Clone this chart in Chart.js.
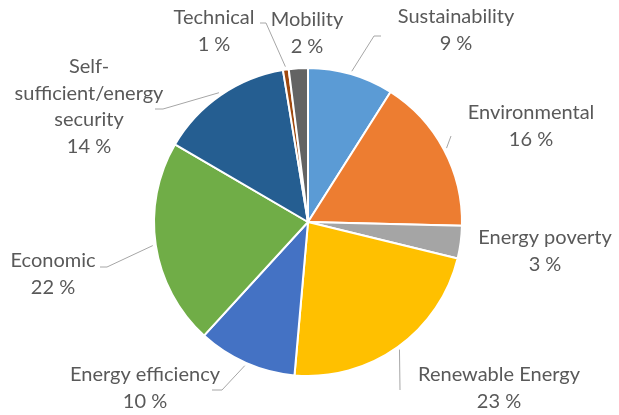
<!DOCTYPE html>
<html>
<head>
<meta charset="utf-8">
<script src="https://cdn.jsdelivr.net/npm/chart.js@4.4.1/dist/chart.umd.min.js"></script>
<style>
  html, body { margin: 0; padding: 0; background: #fff; }
  canvas { display: block; }
</style>
</head>
<body>
<canvas id="pie-chart" width="619" height="415"></canvas>
<script>
// Datos del gráfico (sentido horario desde arriba)
const categories = ['Sustainability', 'Environmental', 'Energy poverty', 'Renewable Energy',
  'Energy efficiency', 'Economic', ['Self-', 'sufficient/energy', 'security'], 'Technical', 'Mobility'];
const values = [9.0, 16.4, 3.4, 22.6, 10.4, 21.6, 14.0, 0.6, 2.0];
const colors = ['#5B9BD5', '#ED7D31', '#A5A5A5', '#FFC000', '#4472C4', '#70AD47', '#255E91', '#9E480E', '#636363'];

// Posición de las etiquetas (centro de la primera línea) y codos de las líneas guía
const labelLayout = [
  { x: 456, y: 17, leader: [[374, 36], [381, 36]] },
  { x: 531, y: 113, leader: [[451, 136]] },
  { x: 545, y: 238, leader: null },
  { x: 499, y: 375, leader: [[400, 390]] },
  { x: 145, y: 375, leader: [[222, 390], [212, 390]] },
  { x: 53, y: 261, leader: [[107, 267], [100, 267]] },
  { x: 89, y: 67, leader: [[163, 109], [155, 109]] },
  { x: 214, y: 18, leader: [[266, 23], [260, 23]] },
  { x: 307, y: 20, leader: null }
];

const total = values.reduce((a, b) => a + b, 0);

const pieLabels = {
  id: 'pieLabels',
  afterDatasetsDraw(chart) {
    const ctx = chart.ctx;
    const arcs = chart.getDatasetMeta(0).data;
    ctx.save();
    // Líneas guía
    ctx.strokeStyle = '#A6A6A6';
    ctx.lineWidth = 1;
    arcs.forEach(function(arc, i) {
      const lay = labelLayout[i];
      if (!lay.leader) return;
      const p = arc.getProps(['x', 'y', 'startAngle', 'endAngle', 'outerRadius'], true);
      const mid = (p.startAngle + p.endAngle) / 2;
      const r = p.outerRadius + 3;
      ctx.beginPath();
      ctx.moveTo(p.x + Math.cos(mid) * r, p.y + Math.sin(mid) * r);
      lay.leader.forEach(function(pt) { ctx.lineTo(pt[0], pt[1]); });
      ctx.stroke();
    });
    // Textos
    ctx.fillStyle = '#595959';
    ctx.font = '20px Lato';
    ctx.textAlign = 'center';
    ctx.textBaseline = 'middle';
    const lineH = 26.5;
    categories.forEach(function(cat, i) {
      const lay = labelLayout[i];
      const lines = Array.isArray(cat) ? cat.slice() : [cat];
      lines.push(Math.round(values[i] / total * 100) + ' %');
      lines.forEach(function(t, k) {
        ctx.fillText(t, lay.x, lay.y + k * lineH);
      });
    });
    ctx.restore();
  }
};

new Chart(document.getElementById('pie-chart'), {
  type: 'pie',
  data: {
    labels: categories,
    datasets: [{
      data: values,
      backgroundColor: colors,
      borderColor: '#ffffff',
      borderWidth: 2
    }]
  },
  options: {
    responsive: false,
    animation: false,
    layout: { padding: { top: 67, bottom: 38, left: 153, right: 156 } },
    plugins: {
      legend: { display: false },
      tooltip: { enabled: false }
    }
  },
  plugins: [pieLabels]
});
</script>
</body>
</html>
